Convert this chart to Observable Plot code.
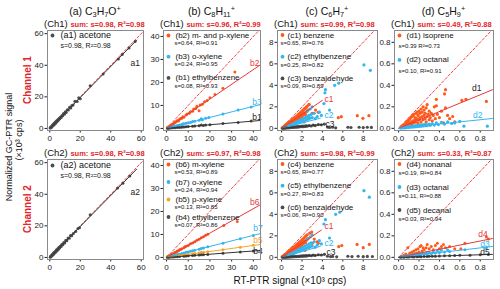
<!DOCTYPE html>
<html><head><meta charset="utf-8">
<script src="https://cdn.jsdelivr.net/npm/d3@7"></script>
<script src="https://cdn.jsdelivr.net/npm/@observablehq/plot@0.6"></script>
<style>
body{margin:0;background:#fff;}
#root{position:relative;width:500px;height:289px;overflow:hidden;font-family:"Liberation Sans",Arial,sans-serif;color:#111;}
.abs{position:absolute;white-space:nowrap;line-height:1;}
.abs sub,.abs sup{font-size:70%;line-height:0;}
.abs sub{vertical-align:-0.3em;}
.abs sup{vertical-align:0.6em;}
</style></head><body><div id="root"></div>
<script>
// ---------- text ----------
const colTitles = ["(a) C<sub>3</sub>H<sub>7</sub>O<sup>+</sup>","(b) C<sub>8</sub>H<sub>11</sub><sup>+</sup>","(c) C<sub>6</sub>H<sub>7</sub><sup>+</sup>","(d) C<sub>5</sub>H<sub>9</sub><sup>+</sup>"];
const chLabels = ["(Ch1)","(Ch2)"];
const sumCh1 = ["sum: s=0.98, R²=0.98","sum: s=0.96, R²=0.99","sum: s=0.99, R²=0.98","sum: s=0.49, R²=0.88"];
const sumCh2 = ["sum: s=0.98, R²=0.98","sum: s=0.97, R²=0.98","sum: s=0.98, R²=0.99","sum: s=0.33, R²=0.87"];
const channelNames = ["Channel 1","Channel 2"];
const yTitle = ["Normalized GC-PTR signal","(×10³ cps)"];
const xTitle = "RT-PTR signal (×10³ cps)";
const axisTicks = [[0,20,40,60],[0,10,20,30,40],[0,2,4,6,8],[0,0.2,0.4,0.6,0.8]];
const xDomains = [[-1.5,61.5],[-1.4,43.3],[-0.4,9.4],[-0.04,0.93]];
const yDomains = [[-1.3,62],[-0.9,42.6],[-0.2,9.1],[-0.02,0.91]];

// ---------- points ----------
const a1_acetone = [[0.2,0.3],[0.5,0.8],[0.8,0.5],[1.0,1.3],[1.3,0.9],[1.6,1.8],[1.9,1.5],[2.2,2.6],[2.5,2.0],[2.8,3.1],[3.1,2.7],[3.4,3.7],[3.7,3.2],[4.0,4.4],[4.3,3.9],[4.7,5.0],[5.0,4.6],[5.4,5.7],[5.8,5.3],[6.2,6.4],[6.6,6.1],[7.0,7.3],[7.5,6.9],[8.0,8.2],[8.5,8.1],[9.0,9.4],[9.6,9.0],[10.2,10.5],[10.8,10.1],[11.5,11.8],[12.2,11.7],[13.0,13.4],[13.8,13.0],[14.5,14.6],[15.3,14.8],[16.5,17.2],[18.0,17.0],[19.0,19.5],[20.0,18.8],[26.5,27.0],[35.0,34.5],[45.0,44.0],[47.5,46.8],[52.0,51.0],[56.0,55.0]];
const a2_acetone = [[0.3,0.2],[0.6,0.9],[0.9,0.6],[1.2,1.4],[1.5,1.0],[1.8,2.0],[2.1,1.7],[2.4,2.8],[2.7,2.2],[3.0,3.3],[3.3,2.9],[3.7,4.0],[4.0,3.5],[4.4,4.8],[4.8,4.3],[5.2,5.5],[5.6,5.1],[6.0,6.4],[6.5,6.0],[7.0,7.2],[7.5,7.0],[8.0,8.4],[8.6,8.0],[9.2,9.5],[9.8,9.2],[10.5,10.9],[11.2,10.6],[12.0,12.3],[12.8,12.2],[13.6,13.9],[14.4,13.8],[15.5,15.2],[17.0,16.5],[18.5,18.3],[19.5,18.8],[26.5,27.0],[44.5,44.0],[48.0,47.0],[52.5,51.5]];

const b2_mpxylene = [[0.3,0.25],[0.6,0.45],[0.9,0.7],[1.2,0.65],[1.5,1.1],[1.8,1.2],[2.1,1.15],[2.4,1.7],[2.8,1.8],[3.2,2.0],[3.6,2.5],[4.0,2.6],[4.5,3.0],[5.0,3.4],[5.5,3.2],[6.0,4.0],[6.5,4.3],[7.0,4.4],[7.5,5.1],[8.0,4.9],[9.0,5.8],[9.5,6.3],[10.5,6.6],[11.0,7.3],[12.0,7.5],[12.5,8.4],[13.5,8.7],[14.0,9.6],[15.0,7.7],[15.5,10.2],[16.5,10.5],[17.5,11.6],[18.7,12.2],[20.0,13.3],[22.3,14.8],[26.0,17.5],[31.5,24.5]];
const b3_oxylene = [[0.5,0.1],[1,0.3],[1.5,0.4],[2,0.45],[2.5,0.6],[3,0.8],[3.5,0.8],[4,1.0],[4.5,1.1],[5,1.3],[5.5,1.2],[6,1.5],[7,1.7],[7.5,1.9],[8,2.0],[9,2.2],[10,2.5],[11,2.6],[12,3.0],[13,3.1],[15,3.6],[16,4.2],[16.5,3.8],[18,4.4],[19.5,4.8],[26,6.3],[33,8.0],[39,9.3]];
const b1_ethylbenzene = [[0.5,0.05],[1,0.1],[2,0.15],[3,0.25],[4,0.3],[5,0.4],[6,0.45],[7,0.55],[8,0.6],[9,0.75],[10,0.8],[12,0.9],[13,1.1],[15,1.2],[16,1.5],[17,1.3],[18,1.5],[20,1.6],[26,2.1],[33,2.6],[39,3.2]];

const b6_mxylene = [[0.3,0.2],[0.6,0.4],[1,0.6],[1.4,0.8],[1.8,1.0],[2.2,1.2],[2.6,1.5],[3,1.6],[3.5,1.9],[4,2.2],[4.5,2.3],[5,2.8],[5.5,2.9],[6,3.3],[6.5,3.4],[7,3.8],[8,4.2],[8.5,4.6],[9,4.9],[10,5.2],[11,5.9],[12,6.3],[13,6.8],[14,7.5],[15,7.9],[16,8.6],[17,9.0],[18,9.6],[19,10.1],[26.4,13.9],[32.6,15.6]];
const b7_oxylene = [[0.5,0.1],[1,0.2],[1.5,0.35],[2,0.5],[3,0.7],[3.5,0.9],[4,1.0],[5,1.2],[5.5,1.3],[6,1.4],[7,1.7],[8,1.9],[9,2.2],[10,2.4],[11,2.7],[12,2.9],[13,3.1],[15,3.6],[16,3.9],[17,4.1],[19,4.6],[26,6.2],[34,8.1],[40,9.5]];
const b5_pxylene = [[0.5,0.05],[1,0.12],[2,0.25],[3,0.4],[4,0.5],[5,0.65],[6,0.8],[7,0.9],[8,1.0],[9,1.2],[10,1.3],[12,1.55],[13,1.7],[15,1.9],[16,2.2],[17,2.2],[19,2.5],[26,3.3],[34,4.4],[40,5.3]];
const b4_ethylbenzene = [[0.5,0.03],[1,0.07],[2,0.14],[3,0.2],[4,0.28],[5,0.35],[6,0.4],[8,0.55],[9,0.62],[10,0.7],[12,0.85],[13,0.9],[15,1.05],[16,1.2],[17,1.2],[19,1.3],[26,1.8],[34,2.4],[40,2.8]];

const c1_benzene = [[0.05,0.03],[0.1,0.08],[0.15,0.05],[0.2,0.15],[0.25,0.12],[0.3,0.22],[0.3,0.1],[0.35,0.28],[0.4,0.18],[0.4,0.32],[0.45,0.25],[0.5,0.4],[0.5,0.2],[0.55,0.33],[0.6,0.48],[0.6,0.28],[0.65,0.4],[0.7,0.55],[0.7,0.32],[0.75,0.45],[0.8,0.62],[0.8,0.38],[0.85,0.5],[0.9,0.7],[0.9,0.42],[0.95,0.58],[1.0,0.78],[1.0,0.48],[1.05,0.65],[1.1,0.85],[1.1,0.52],[1.15,0.72],[1.2,0.92],[1.2,0.6],[1.25,0.78],[1.3,1.0],[1.3,0.66],[1.35,0.85],[1.4,1.08],[1.4,0.7],[1.45,0.92],[1.5,1.15],[1.5,0.78],[1.55,1.0],[1.6,1.25],[1.6,0.85],[1.65,1.08],[1.7,1.32],[1.7,0.9],[1.75,1.15],[1.8,1.42],[1.8,1.0],[1.85,1.22],[1.9,1.5],[1.9,1.05],[1.95,1.3],[2.0,1.6],[2.0,1.12],[2.05,1.38],[2.1,1.68],[2.15,1.25],[2.2,1.78],[2.25,1.45],[2.3,1.85],[2.35,1.3],[2.4,1.95],[2.45,1.55],[2.5,2.05],[2.6,1.7],[2.7,2.2],[2.68,2.23],[3.33,1.7],[3.6,1.49],[3.0,1.4],[5.56,0.99],[5.85,1.09],[7.42,1.18],[7.97,0.93],[8.56,1.18],[2.2,0.6],[2.6,0.9]];
const c2_ethylbenzene = [[0.3,0.08],[0.5,0.15],[0.7,0.2],[0.8,0.3],[1.0,0.28],[1.1,0.4],[1.2,0.35],[1.3,0.5],[1.4,0.42],[1.5,0.6],[1.6,0.5],[1.7,0.7],[1.8,0.55],[1.9,0.8],[2.0,0.65],[2.1,0.9],[2.2,0.7],[2.3,1.0],[2.4,0.8],[2.5,1.1],[2.6,0.85],[2.7,1.2],[2.8,0.95],[2.9,1.3],[3.0,1.0],[3.2,1.4],[3.3,0.9],[3.5,1.1],[3.7,1.5],[3.9,1.2],[2.5,1.6],[2.8,1.8],[3.0,2.0],[4.15,2.3],[4.25,3.3],[4.3,3.6],[5.2,4.0],[5.6,4.2],[8.07,5.9],[8.7,5.4],[4.7,1.7]];
const c3_benzaldehyde = [[0.1,0.01],[0.2,0.03],[0.3,0.02],[0.4,0.05],[0.5,0.04],[0.6,0.07],[0.7,0.05],[0.8,0.09],[0.9,0.07],[1.0,0.1],[1.1,0.08],[1.2,0.12],[1.3,0.1],[1.4,0.14],[1.5,0.11],[1.6,0.16],[1.7,0.13],[1.8,0.18],[1.9,0.15],[2.0,0.2],[2.1,0.16],[2.2,0.22],[2.3,0.18],[2.4,0.24],[2.5,0.2],[2.7,0.26],[2.9,0.22],[3.1,0.3],[3.3,0.26],[3.6,0.35],[3.9,0.33],[4.2,0.4],[4.5,0.12],[4.7,0.08],[5.0,0.1],[5.3,0.05],[6.5,0.1],[6.8,0.08],[7.6,0.1],[8.0,0.07],[8.4,0.1],[8.8,0.09]];

const c4_benzene = [[0.05,0.04],[0.1,0.06],[0.15,0.1],[0.2,0.12],[0.25,0.2],[0.3,0.15],[0.3,0.25],[0.35,0.2],[0.4,0.3],[0.45,0.22],[0.5,0.36],[0.5,0.27],[0.55,0.42],[0.6,0.33],[0.6,0.5],[0.65,0.38],[0.7,0.52],[0.7,0.42],[0.75,0.6],[0.8,0.46],[0.8,0.66],[0.85,0.52],[0.9,0.72],[0.9,0.56],[0.95,0.62],[1.0,0.8],[1.0,0.55],[1.05,0.7],[1.1,0.88],[1.1,0.6],[1.15,0.76],[1.2,0.95],[1.2,0.66],[1.25,0.82],[1.3,1.02],[1.3,0.72],[1.35,0.9],[1.4,1.1],[1.4,0.78],[1.45,0.96],[1.5,1.18],[1.5,0.84],[1.55,1.04],[1.6,1.28],[1.6,0.9],[1.65,1.1],[1.7,1.36],[1.7,0.96],[1.75,1.18],[1.8,1.45],[1.8,1.02],[1.85,1.25],[1.9,1.52],[1.9,1.1],[1.95,1.34],[2.0,1.62],[2.0,1.16],[2.05,1.42],[2.1,1.7],[2.15,1.28],[2.2,1.8],[2.25,1.5],[2.3,1.9],[2.35,1.36],[2.4,2.0],[2.45,1.6],[2.5,2.1],[2.6,1.75],[2.75,2.25],[2.95,2.35],[3.2,1.7],[3.5,1.45],[3.6,1.3],[3.0,1.3],[5.6,1.0],[5.9,1.1],[7.4,1.2],[8.0,0.9],[8.6,1.2],[2.3,0.65],[2.7,0.95]];
const c5_ethylbenzene = [[0.3,0.1],[0.5,0.12],[0.7,0.22],[0.8,0.28],[1.0,0.3],[1.1,0.42],[1.2,0.36],[1.3,0.52],[1.4,0.44],[1.5,0.62],[1.6,0.52],[1.7,0.72],[1.8,0.58],[1.9,0.84],[2.0,0.68],[2.1,0.94],[2.2,0.74],[2.3,1.05],[2.4,0.84],[2.5,1.15],[2.6,0.9],[2.7,1.25],[2.8,1.0],[2.9,1.35],[3.0,1.05],[3.2,1.45],[3.3,0.95],[3.5,1.15],[3.7,1.55],[3.9,1.25],[2.5,1.7],[2.8,1.9],[3.0,2.1],[4.15,3.1],[4.3,3.5],[5.3,4.0],[5.7,4.2],[8.07,6.2],[8.6,5.6],[4.7,1.8]];
const c6_benzaldehyde = [[0.1,0.01],[0.2,0.02],[0.3,0.015],[0.4,0.03],[0.5,0.025],[0.6,0.04],[0.7,0.035],[0.8,0.05],[0.9,0.045],[1.0,0.06],[1.1,0.05],[1.2,0.08],[1.3,0.065],[1.4,0.09],[1.5,0.075],[1.6,0.1],[1.7,0.085],[1.8,0.12],[1.9,0.1],[2.0,0.13],[2.1,0.11],[2.2,0.15],[2.3,0.12],[2.4,0.16],[2.5,0.13],[2.7,0.18],[2.9,0.15],[3.1,0.2],[3.3,0.17],[3.6,0.24],[3.9,0.22],[4.2,0.28],[4.5,0.1],[4.8,0.07],[5.0,0.09],[5.4,0.05],[6.5,0.1],[6.9,0.07],[7.5,0.1],[8.0,0.06],[8.4,0.09],[8.9,0.08]];

const d1_isoprene = [[0.02,0.01],[0.03,0.02],[0.04,0.01],[0.05,0.03],[0.05,0.015],[0.06,0.04],[0.07,0.02],[0.07,0.05],[0.08,0.03],[0.08,0.06],[0.09,0.04],[0.09,0.07],[0.1,0.05],[0.1,0.08],[0.11,0.03],[0.11,0.09],[0.12,0.06],[0.12,0.1],[0.13,0.04],[0.13,0.11],[0.14,0.07],[0.14,0.12],[0.15,0.05],[0.15,0.13],[0.16,0.08],[0.16,0.1],[0.17,0.06],[0.17,0.14],[0.18,0.09],[0.18,0.15],[0.19,0.05],[0.19,0.12],[0.2,0.08],[0.2,0.16],[0.21,0.1],[0.21,0.14],[0.22,0.06],[0.22,0.18],[0.23,0.11],[0.23,0.15],[0.24,0.08],[0.24,0.2],[0.25,0.12],[0.25,0.17],[0.26,0.09],[0.26,0.14],[0.27,0.06],[0.27,0.19],[0.28,0.11],[0.28,0.22],[0.29,0.13],[0.3,0.08],[0.3,0.16],[0.31,0.1],[0.32,0.14],[0.33,0.07],[0.34,0.12],[0.35,0.2],[0.36,0.09],[0.37,0.27],[0.37,0.21],[0.38,0.13],[0.4,0.1],[0.42,0.16],[0.45,0.32],[0.46,0.36],[0.46,0.19],[0.48,0.12],[0.5,0.09],[0.53,0.11],[0.62,0.26],[0.66,0.27],[0.86,0.25],[0.44,0.05],[0.55,0.06]];
const d2_octanal = [[0.02,0.003],[0.04,0.005],[0.05,0.01],[0.06,0.004],[0.07,0.012],[0.08,0.007],[0.09,0.015],[0.1,0.008],[0.11,0.018],[0.12,0.01],[0.13,0.02],[0.14,0.012],[0.15,0.022],[0.16,0.014],[0.17,0.025],[0.18,0.016],[0.19,0.028],[0.2,0.018],[0.21,0.03],[0.22,0.02],[0.23,0.032],[0.24,0.022],[0.25,0.035],[0.26,0.024],[0.27,0.038],[0.28,0.026],[0.3,0.04],[0.31,0.028],[0.33,0.045],[0.35,0.03],[0.37,0.05],[0.39,0.035],[0.42,0.055],[0.45,0.04],[0.48,0.06],[0.52,0.045],[0.55,0.05],[0.64,0.02],[0.87,0.02],[0.6,0.065]];

const d4_nonanal = [[0.03,0.01],[0.05,0.02],[0.06,0.005],[0.07,0.03],[0.08,0.015],[0.09,0.09],[0.1,0.025],[0.11,0.04],[0.12,0.02],[0.13,0.05],[0.14,0.03],[0.15,0.06],[0.16,0.035],[0.17,0.07],[0.18,0.04],[0.19,0.08],[0.2,0.05],[0.21,0.1],[0.22,0.11],[0.23,0.06],[0.24,0.09],[0.25,0.07],[0.27,0.09],[0.28,0.12],[0.3,0.08],[0.32,0.1],[0.34,0.07],[0.36,0.11],[0.38,0.13],[0.4,0.08],[0.42,0.1],[0.44,0.12],[0.46,0.09],[0.5,0.1],[0.55,0.08],[0.61,0.08],[0.65,0.13],[0.86,0.19],[0.88,0.17]];
const d3_octanal = [[0.02,0.003],[0.04,0.006],[0.05,0.01],[0.06,0.005],[0.07,0.012],[0.08,0.008],[0.09,0.015],[0.1,0.01],[0.11,0.02],[0.12,0.012],[0.13,0.022],[0.14,0.015],[0.15,0.025],[0.16,0.018],[0.17,0.028],[0.18,0.02],[0.19,0.03],[0.2,0.022],[0.21,0.035],[0.22,0.025],[0.24,0.038],[0.25,0.028],[0.27,0.042],[0.28,0.03],[0.3,0.045],[0.32,0.035],[0.34,0.05],[0.36,0.04],[0.38,0.06],[0.4,0.045],[0.42,0.065],[0.45,0.05],[0.48,0.07],[0.5,0.055],[0.65,0.07],[0.86,0.09]];
const d5_decanal = [[0.02,0.001],[0.05,0.002],[0.08,0.003],[0.1,0.004],[0.13,0.005],[0.15,0.004],[0.18,0.006],[0.2,0.007],[0.22,0.006],[0.25,0.008],[0.28,0.009],[0.3,0.01],[0.33,0.011],[0.36,0.01],[0.4,0.012],[0.45,0.015],[0.5,0.015],[0.55,0.018],[0.6,0.02],[0.7,0.02],[0.8,0.025],[0.88,0.027]];

// ---------- per-panel series info ----------
const namesA1=["(a1) acetone"], statsA1=["s=0.98, R²=0.98"], slopesA1=[0.98], endsA1=[57], tagsA1=["a1"], tagPosA1=[[53,41]];
const namesB1=["(b2) m- and p-xylene","(b3) o-xylene","(b1) ethylbenzene"], statsB1=["s=0.64, R²=0.91","s=0.24, R²=0.95","s=0.08, R²=0.93"], slopesB1=[0.64,0.24,0.08], endsB1=[43,43,43], tagsB1=["b2","b3","b1"], tagPosB1=[[38.5,28.5],[39.5,11.5],[39.5,5]];
const namesC1=["(c1) benzene","(c2) ethylbenzene","(c3) benzaldehyde"], statsC1=["s=0.65, R²=0.76","s=0.25, R²=0.82","s=0.09, R²=0.89"], slopesC1=[0.65,0.25,0.09], endsC1=[4.0,3.8,4.1], tagsC1=["c1","c2","c3"], tagPosC1=[[4.2,2.75],[4.2,1.2],[4.3,0.4]];
const namesD1=["(d1) isoprene","(d2) octanal"], statsD1=["s=0.39 R²=0.73","s=0.10, R²=0.91"], slopesD1=[0.39,0.10], endsD1=[0.92,0.92], tagsD1=["d1","d2"], tagPosD1=[[0.72,0.37],[0.73,0.125]];
const namesA2=["(a2) acetone"], statsA2=["s=0.98, R²=0.98"], slopesA2=[0.98], endsA2=[57], tagsA2=["a2"], tagPosA2=[[53,41]];
const namesB2=["(b6) m-xylene","(b7) o-xylene","(b5) p-xylene","(b4) ethylbenzene"], statsB2=["s=0.53, R²=0.89","s=0.24, R²=0.94","s=0.13, R²=0.85","s=0.07, R²=0.86"], slopesB2=[0.53,0.24,0.13,0.07], endsB2=[43,43,43,43], tagsB2=["b6","b7","b5","b4"], tagPosB2=[[38.5,24],[40,12.5],[40,7.5],[40,2.6]];
const namesC2=["(c4) benzene","(c5) ethylbenzene","(c6) benzaldehyde"], statsC2=["s=0.65, R²=0.77","s=0.27, R²=0.83","s=0.06, R²=0.90"], slopesC2=[0.65,0.27,0.06], endsC2=[3.9,3.8,4.1], tagsC2=["c1","c2","c3"], tagPosC2=[[4.2,2.85],[4.2,1.3],[4.4,0.45]];
const namesD2=["(d4) nonanal","(d3) octanal","(d5) decanal"], statsD2=["s=0.19, R²=0.84","s=0.11, R²=0.88","s=0.03, R²=0.94"], slopesD2=[0.19,0.11,0.03], endsD2=[0.92,0.92,0.92], tagsD2=["d4","d3","d5"], tagPosD2=[[0.78,0.215],[0.8,0.125],[0.8,0.045]];

// ---------- styling ----------
const ORANGE="#ff5a1a", BLUE="#33b5f0", GRAY="#4d4d4d", YELLOW="#f5a62a", RED="#e8383d", DARK="#222";
const colLeft=[47,163,277,394], colRight=[143,260,377,493], rowTop=[30,159], frameH=100;

function ser(pts,name,stat,slope,end,tag,pos,color,lineColor,tagColor){
  return {pts,name,stat,slope,end,tag,lx:pos[0],ly:pos[1],color,lineColor,tagColor};
}
const panels = [
 {col:0,row:0,leg:{y0:5,sp:0,sub:10,fs:9,sfs:7,tx:13,sx:13},series:[
   ser(a1_acetone,namesA1[0],statsA1[0],slopesA1[0],endsA1[0],tagsA1[0],tagPosA1[0],GRAY,"#333",DARK)]},
 {col:1,row:0,leg:{y0:5,sp:21.2,sub:7.8,fs:8,sfs:6,tx:12,sx:11},series:[
   ser(b2_mpxylene,namesB1[0],statsB1[0],slopesB1[0],endsB1[0],tagsB1[0],tagPosB1[0],ORANGE,RED,RED),
   ser(b3_oxylene,namesB1[1],statsB1[1],slopesB1[1],endsB1[1],tagsB1[1],tagPosB1[1],BLUE,BLUE,BLUE),
   ser(b1_ethylbenzene,namesB1[2],statsB1[2],slopesB1[2],endsB1[2],tagsB1[2],tagPosB1[2],GRAY,"#333",DARK)]},
 {col:2,row:0,r:1.6,leg:{y0:4.5,sp:21.7,sub:8,fs:8,sfs:6,tx:10,sx:3},series:[
   ser(c1_benzene,namesC1[0],statsC1[0],slopesC1[0],endsC1[0],tagsC1[0],tagPosC1[0],ORANGE,RED,RED),
   ser(c2_ethylbenzene,namesC1[1],statsC1[1],slopesC1[1],endsC1[1],tagsC1[1],tagPosC1[1],BLUE,BLUE,BLUE),
   ser(c3_benzaldehyde,namesC1[2],statsC1[2],slopesC1[2],endsC1[2],tagsC1[2],tagPosC1[2],GRAY,"#333",DARK)]},
 {col:3,row:0,r:1.6,leg:{y0:5,sp:24.4,sub:11,fs:8,sfs:6,tx:12,sx:4},series:[
   ser(d1_isoprene,namesD1[0],statsD1[0],slopesD1[0],endsD1[0],tagsD1[0],tagPosD1[0],ORANGE,RED,DARK),
   ser(d2_octanal,namesD1[1],statsD1[1],slopesD1[1],endsD1[1],tagsD1[1],tagPosD1[1],BLUE,BLUE,BLUE)]},
 {col:0,row:1,leg:{y0:6,sp:0,sub:10,fs:9,sfs:7,tx:13,sx:13},series:[
   ser(a2_acetone,namesA2[0],statsA2[0],slopesA2[0],endsA2[0],tagsA2[0],tagPosA2[0],GRAY,"#333",DARK)]},
 {col:1,row:1,leg:{y0:5,sp:17.5,sub:8,fs:8,sfs:6,tx:12,sx:11},series:[
   ser(b6_mxylene,namesB2[0],statsB2[0],slopesB2[0],endsB2[0],tagsB2[0],tagPosB2[0],ORANGE,RED,RED),
   ser(b7_oxylene,namesB2[1],statsB2[1],slopesB2[1],endsB2[1],tagsB2[1],tagPosB2[1],BLUE,BLUE,BLUE),
   ser(b5_pxylene,namesB2[2],statsB2[2],slopesB2[2],endsB2[2],tagsB2[2],tagPosB2[2],YELLOW,YELLOW,YELLOW),
   ser(b4_ethylbenzene,namesB2[3],statsB2[3],slopesB2[3],endsB2[3],tagsB2[3],tagPosB2[3],GRAY,"#333",DARK)]},
 {col:2,row:1,r:1.6,leg:{y0:4.5,sp:21.7,sub:8,fs:8,sfs:6,tx:10,sx:3},series:[
   ser(c4_benzene,namesC2[0],statsC2[0],slopesC2[0],endsC2[0],tagsC2[0],tagPosC2[0],ORANGE,RED,RED),
   ser(c5_ethylbenzene,namesC2[1],statsC2[1],slopesC2[1],endsC2[1],tagsC2[1],tagPosC2[1],BLUE,BLUE,BLUE),
   ser(c6_benzaldehyde,namesC2[2],statsC2[2],slopesC2[2],endsC2[2],tagsC2[2],tagPosC2[2],GRAY,"#333",DARK)]},
 {col:3,row:1,leg:{y0:4.5,sp:23,sub:9,fs:8,sfs:6,tx:12,sx:4},series:[
   ser(d4_nonanal,namesD2[0],statsD2[0],slopesD2[0],endsD2[0],tagsD2[0],tagPosD2[0],ORANGE,RED,RED),
   ser(d3_octanal,namesD2[1],statsD2[1],slopesD2[1],endsD2[1],tagsD2[1],tagPosD2[1],BLUE,BLUE,BLUE),
   ser(d5_decanal,namesD2[2],statsD2[2],slopesD2[2],endsD2[2],tagsD2[2],tagPosD2[2],GRAY,"#333",DARK)]}
];

const root=document.getElementById("root");
function drawPanel(p){
  const col=p.col,row=p.row;
  const W=colRight[col]-colLeft[col], H=frameH;
  const mL=24,mR=3,mT=3,mB=16;
  const [x0,x1]=xDomains[col],[y0,y1]=yDomains[col];
  const dmax=Math.min(x1,y1);
  const fmt = col===3 ? d3.format(".1f") : d3.format("d");
  const marks=[];
  marks.push(Plot.line([0,dmax],{x:d=>d,y:d=>d,stroke:"#f0474b",strokeWidth:1,strokeDasharray:"2.5,2"}));
  p.series.forEach(s=>marks.push(Plot.dot(s.pts,{x:d=>d[0],y:d=>d[1],r:p.r||1.5,fill:s.color})));
  p.series.forEach(s=>marks.push(Plot.line([0,s.end],{x:d=>d,y:d=>d*s.slope,stroke:s.lineColor,strokeWidth:1})));
  p.series.forEach(s=>marks.push(Plot.text([s],{x:d=>d.lx,y:d=>d.ly,text:d=>d.tag,fill:s.tagColor,fontSize:8.5,textAnchor:"start"})));
  const L=p.leg;
  p.series.forEach((s,i)=>{
    const dy=L.y0+i*L.sp;
    marks.push(Plot.dot([s],{frameAnchor:"top-left",dx:5,dy:dy,r:1.9,fill:s.color}));
    marks.push(Plot.text([s],{frameAnchor:"top-left",dx:L.tx,dy:dy,text:d=>d.name,textAnchor:"start",lineAnchor:"middle",fontSize:L.fs,fill:"#111"}));
    marks.push(Plot.text([s],{frameAnchor:"top-left",dx:L.sx,dy:dy+L.sub,text:d=>d.stat,textAnchor:"start",lineAnchor:"middle",fontSize:L.sfs,fill:"#111"}));
  });
  marks.push(Plot.frame({stroke:"#8a8a8a"}));
  const chart=Plot.plot({
    width:W+mL+mR,height:H+mT+mB,marginLeft:mL,marginRight:mR,marginTop:mT,marginBottom:mB,
    x:{domain:[x0,x1],ticks:axisTicks[col],tickFormat:fmt,tickSize:2.5,tickPadding:2,label:null},
    y:{domain:[y0,y1],ticks:axisTicks[col],tickFormat:fmt,tickSize:2.5,tickPadding:1.5,label:null},
    style:{background:"transparent",fontSize:"8px",fontFamily:"'Liberation Sans', Arial, sans-serif",color:"#222",overflow:"visible"},
    marks
  });
  chart.style.position="absolute";
  chart.style.left=(colLeft[col]-mL)+"px";
  chart.style.top=(rowTop[row]-mT)+"px";
  root.appendChild(chart);
}
panels.forEach(drawPanel);

function addDiv(html,style){
  const d=document.createElement("div");
  d.className="abs";
  d.innerHTML=html;
  Object.assign(d.style,style);
  root.appendChild(d);
  return d;
}
// column titles
colTitles.forEach((t,i)=>{
  const c=(colLeft[i]+colRight[i])/2;
  addDiv(t,{left:(c-60)+"px",width:"120px",textAlign:"center",top:"6px",fontSize:"10.5px"});
});
// channel summary rows
[sumCh1,sumCh2].forEach((arr,r)=>{
  arr.forEach((t,i)=>{
    addDiv(chLabels[r]+' <span style="color:#e3262b;font-weight:bold;font-size:7.5px">'+t+'</span>',
      {left:(colLeft[i]-3)+"px",top:(rowTop[r]-11)+"px",fontSize:"9.5px"});
  });
});
// channel labels (rotated)
channelNames.forEach((t,r)=>{
  const cy=rowTop[r]+frameH/2;
  addDiv(t,{left:(29-50)+"px",top:(cy-6)+"px",width:"100px",height:"12px",textAlign:"center",fontSize:"10px",fontWeight:"bold",color:"#e3262b",transform:"rotate(-90deg)"});
});
// y title
addDiv(yTitle[0],{left:(10-80)+"px",top:(147-5)+"px",width:"160px",height:"10px",textAlign:"center",fontSize:"9px",transform:"rotate(-90deg)"});
addDiv(yTitle[1],{left:(20-80)+"px",top:(140-5)+"px",width:"160px",height:"10px",textAlign:"center",fontSize:"9px",transform:"rotate(-90deg)"});
// x title
addDiv(xTitle,{left:(290-100)+"px",top:"276px",width:"200px",textAlign:"center",fontSize:"10px"});
</script></body></html>
